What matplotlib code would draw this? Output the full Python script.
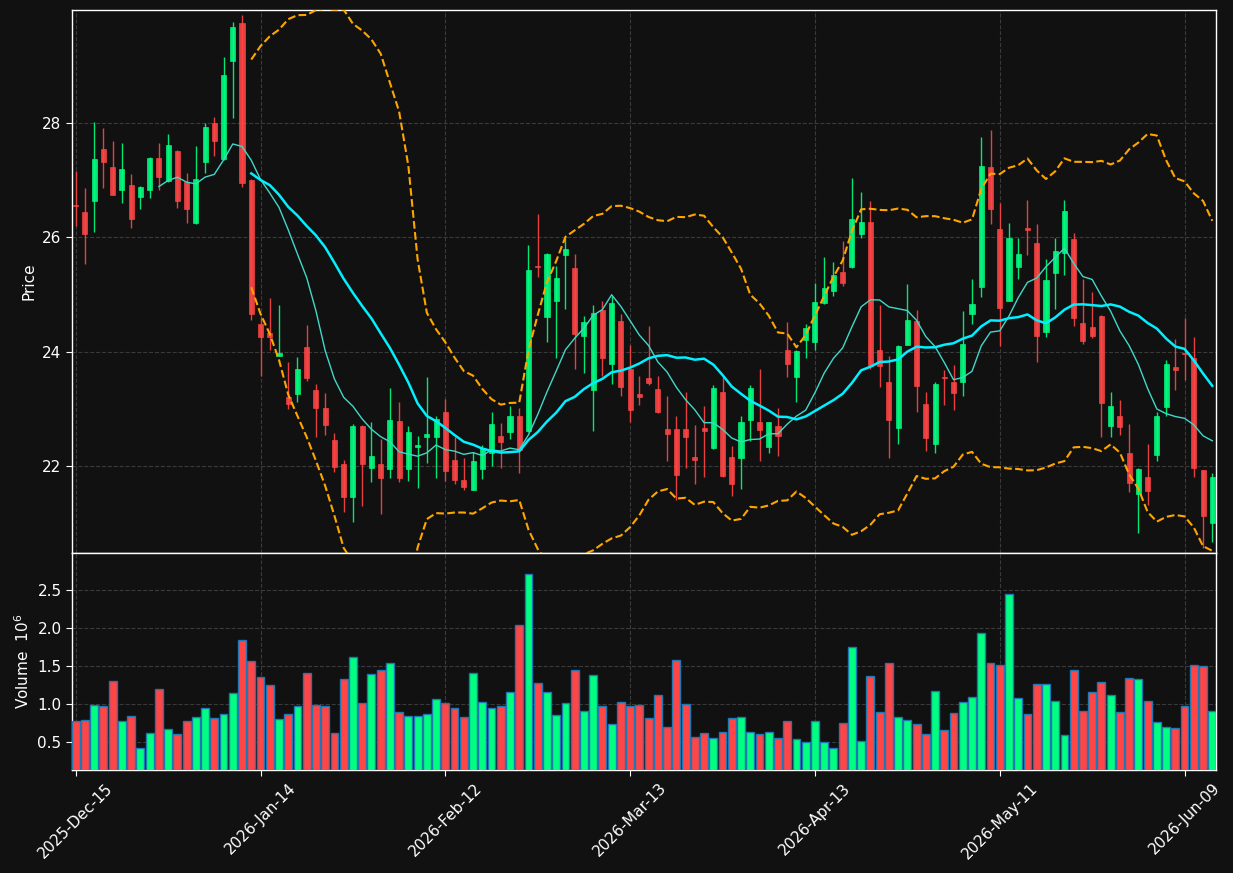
"""Candlestick chart with SMA10 / SMA20, Bollinger bands and volume panel."""

import numpy as np
import pandas as pd
import matplotlib
matplotlib.use('Agg')
import matplotlib.pyplot as plt

# ---- data ----
start_date = '2025-12-15'
holidays = ['2025-12-25', '2026-01-01', '2026-01-19', '2026-02-16', '2026-04-03', '2026-05-25']

opens = [26.57, 26.44, 26.63, 27.55, 27.22, 26.82, 26.92, 26.70, 26.82, 27.39,
         26.98, 27.51, 26.96, 26.24, 27.31, 27.99, 27.36, 29.08, 29.74, 27.00,
         24.49, 24.32, 23.93, 23.20, 23.26, 24.08, 23.33, 23.01, 22.45, 22.03,
         21.46, 22.69, 21.96, 22.04, 21.94, 22.78, 21.94, 22.33, 22.50, 22.50,
         22.94, 22.11, 21.76, 21.58, 21.94, 22.23, 22.53, 22.59, 22.87, 22.61,
         25.50, 24.61, 24.89, 25.68, 25.46, 24.27, 23.33, 24.73, 23.78, 24.53,
         23.69, 23.25, 23.53, 23.34, 22.65, 22.64, 22.64, 22.16, 22.66, 22.31,
         23.30, 22.15, 22.13, 22.80, 22.76, 22.33, 22.69, 24.02, 23.56, 24.20,
         24.17, 24.85, 25.06, 25.39, 25.48, 26.05, 26.27, 24.02, 23.46, 22.67,
         24.12, 24.53, 23.09, 22.38, 23.55, 23.47, 23.46, 24.66, 25.13, 27.23,
         26.15, 24.89, 25.47, 26.16, 25.90, 24.35, 25.38, 25.72, 25.97, 24.50,
         24.43, 24.62, 22.70, 22.88, 22.23, 21.51, 21.81, 22.19, 23.03, 23.73,
         23.98, 23.89, 21.92, 21.00]
highs = [27.15, 26.86, 28.02, 27.91, 27.68, 27.65, 27.11, 26.89, 27.40, 27.64,
         27.80, 27.52, 27.12, 27.60, 28.00, 28.11, 29.15, 29.76, 29.88, 27.01,
         24.60, 24.93, 24.81, 23.81, 23.90, 24.46, 23.44, 23.27, 22.57, 22.11,
         22.74, 22.72, 22.77, 22.47, 23.37, 23.11, 22.70, 22.53, 23.56, 22.87,
         23.17, 22.51, 22.14, 22.24, 22.37, 22.95, 22.75, 23.04, 23.02, 25.86,
         26.40, 25.72, 25.49, 25.99, 25.70, 24.63, 24.81, 24.89, 24.97, 24.65,
         24.11, 23.57, 24.44, 23.57, 23.23, 22.88, 23.29, 22.72, 23.04, 23.41,
         23.55, 22.34, 22.87, 23.41, 23.69, 22.77, 23.02, 24.51, 24.02, 24.49,
         25.19, 25.65, 25.56, 25.94, 27.03, 26.79, 26.63, 24.81, 23.92, 24.11,
         25.18, 24.73, 23.30, 23.46, 23.68, 23.76, 24.71, 25.26, 27.75, 27.88,
         26.60, 26.25, 25.98, 26.65, 26.23, 25.61, 25.98, 26.65, 26.07, 25.27,
         25.04, 24.64, 23.29, 23.16, 22.74, 21.96, 22.39, 22.95, 23.85, 24.22,
         24.58, 24.26, 21.93, 21.87]
lows = [26.20, 25.53, 26.09, 26.86, 26.73, 26.60, 26.16, 26.49, 26.68, 26.82,
        26.96, 26.51, 26.25, 26.23, 27.12, 27.42, 27.35, 28.08, 26.88, 24.56,
        23.58, 24.02, 23.93, 22.99, 23.11, 23.48, 22.51, 22.54, 21.89, 21.20,
        21.02, 21.29, 21.71, 21.16, 21.78, 21.71, 21.73, 21.61, 22.05, 21.79,
        21.73, 21.68, 21.58, 21.57, 21.77, 22.00, 21.96, 22.47, 21.88, 22.60,
        25.30, 24.17, 23.88, 24.75, 23.70, 23.63, 22.61, 23.57, 23.44, 23.22,
        22.77, 23.06, 23.41, 22.93, 22.08, 21.40, 21.96, 21.68, 21.81, 22.30,
        21.81, 21.47, 21.60, 22.44, 22.08, 22.23, 22.18, 23.56, 23.11, 23.89,
        24.02, 24.84, 24.98, 25.15, 25.46, 25.99, 23.70, 23.38, 22.14, 22.39,
        24.11, 22.95, 22.26, 22.23, 23.07, 22.98, 23.22, 24.48, 24.95, 26.23,
        24.10, 24.88, 25.26, 25.68, 23.81, 24.26, 24.75, 25.33, 24.44, 24.13,
        24.23, 22.51, 22.51, 22.54, 21.55, 20.82, 21.32, 22.08, 22.88, 23.33,
        23.50, 21.81, 20.57, 20.66]
closes = [26.55, 26.06, 27.36, 27.31, 26.74, 27.20, 26.31, 26.87, 27.39, 27.06,
          27.62, 26.63, 26.50, 27.01, 27.92, 27.68, 28.83, 29.67, 26.94, 24.66,
          24.26, 24.26, 23.98, 23.08, 23.69, 23.54, 23.02, 22.72, 21.98, 21.46,
          22.70, 22.04, 22.18, 21.78, 22.81, 21.78, 22.60, 22.37, 22.56, 22.82,
          21.91, 21.76, 21.63, 22.08, 22.31, 22.74, 22.42, 22.88, 22.27, 25.43,
          25.47, 25.71, 25.29, 25.80, 24.31, 24.51, 24.67, 23.89, 24.85, 23.38,
          22.98, 23.20, 23.45, 22.94, 22.55, 21.84, 22.50, 22.11, 22.61, 23.37,
          21.82, 21.68, 22.76, 23.37, 22.63, 22.76, 22.52, 23.78, 24.01, 24.42,
          24.87, 25.11, 25.34, 25.19, 26.32, 26.27, 23.74, 23.75, 22.80, 24.10,
          24.55, 23.40, 22.49, 23.44, 23.53, 23.27, 24.13, 24.84, 27.25, 26.50,
          24.77, 25.99, 25.71, 26.12, 24.27, 25.25, 25.76, 26.46, 24.59, 24.19,
          24.27, 23.10, 23.04, 22.68, 21.70, 21.95, 21.56, 22.87, 23.78, 23.68,
          23.96, 21.96, 21.12, 21.81]
# volume in millions of shares
volumes = [0.772, 0.789, 0.987, 0.974, 1.303, 0.772, 0.842, 0.421, 0.618, 1.197,
           0.671, 0.605, 0.772, 0.829, 0.947, 0.816, 0.868, 1.145, 1.842, 1.566,
           1.355, 1.250, 0.803, 0.868, 0.974, 1.408, 0.987, 0.974, 0.618, 1.329,
           1.618, 1.013, 1.395, 1.447, 1.539, 0.895, 0.842, 0.842, 0.868, 1.066,
           1.013, 0.947, 0.829, 1.408, 1.026, 0.947, 0.974, 1.158, 2.039, 2.711,
           1.276, 1.158, 0.855, 1.013, 1.447, 0.908, 1.382, 0.974, 0.737, 1.026,
           0.974, 0.987, 0.816, 1.118, 0.697, 1.579, 1.000, 0.566, 0.618, 0.553,
           0.632, 0.816, 0.829, 0.632, 0.605, 0.632, 0.553, 0.776, 0.539, 0.500,
           0.776, 0.500, 0.421, 0.750, 1.750, 0.513, 1.368, 0.895, 1.539, 0.829,
           0.789, 0.737, 0.605, 1.171, 0.658, 0.882, 1.026, 1.092, 1.934, 1.539,
           1.513, 2.447, 1.079, 0.868, 1.263, 1.263, 1.039, 0.592, 1.447, 0.908,
           1.158, 1.289, 1.118, 0.895, 1.342, 1.329, 1.039, 0.763, 0.697, 0.684,
           0.974, 1.513, 1.500, 0.908]

# ---- style ----
BG = '#111111'
UP = '#00ff80'
DOWN = '#ff4545'
GRID = dict(color='#3a3a3a', linestyle='--', linewidth=0.8)

df = pd.DataFrame({'Open': opens, 'High': highs, 'Low': lows,
                   'Close': closes, 'Volume': volumes})
df.index = pd.bdate_range(start_date, periods=len(df), freq='C', holidays=holidays)

sma10 = df['Close'].rolling(10).mean()
sma20 = df['Close'].rolling(20).mean()
std20 = df['Close'].rolling(20).std(ddof=0)
upper = sma20 + 2 * std20
lower = sma20 - 2 * std20

x = np.arange(len(df))
up = df['Close'] >= df['Open']
colors = np.where(up, UP, DOWN)

fig = plt.figure(figsize=(12.33, 8.73), dpi=100, facecolor=BG)
ax1 = fig.add_axes([0.0584, 0.3666, 0.9278, 0.6219])
ax2 = fig.add_axes([0.0584, 0.118, 0.9278, 0.2486], sharex=ax1)

for ax in (ax1, ax2):
    ax.set_facecolor(BG)
    for s in ax.spines.values():
        s.set_color('white')
        s.set_linewidth(1.0)
    ax.tick_params(colors='white', labelsize=11, length=4)
    ax.grid(True, **GRID)
    ax.set_axisbelow(True)

# Candles
body_lo = np.minimum(df['Open'], df['Close'])
body_h = np.maximum((df['Close'] - df['Open']).abs(), 0.02)
ax1.vlines(x, df['Low'], df['High'], colors=colors, linewidth=1.0, alpha=0.9, zorder=2)
ax1.bar(x, body_h, bottom=body_lo, width=0.55, color=colors,
        edgecolor=colors, linewidth=0.5, alpha=0.9, zorder=3)

# Moving averages and bands
ax1.plot(x, sma10, color='#40d8c8', linewidth=1.0, zorder=4)
ax1.plot(x, sma20, color='#00f0ff', linewidth=1.8, zorder=4)
ax1.plot(x, upper, color='orange', linestyle='--', linewidth=1.5, zorder=4)
ax1.plot(x, lower, color='orange', linestyle='--', linewidth=1.5, zorder=4)

pad = 0.01 * (df['High'].max() - df['Low'].min())
ax1.set_ylim(df['Low'].min() - pad, df['High'].max() + pad)
ax1.set_ylabel('Price', color='white', fontsize=11)
plt.setp(ax1.get_xticklabels(), visible=False)
ax1.tick_params(axis='x', length=0)

# Volume
ax2.bar(x, df['Volume'], width=0.85, color=colors, edgecolor='#1f77b4',
        linewidth=1.0, zorder=3)
ax2.set_ylim(0.3 * df['Volume'].min(), 1.1 * df['Volume'].max())
ax2.set_ylabel('Volume  $10^{6}$', color='white', fontsize=11)

ticks = x[::20]
ax2.set_xticks(ticks)
ax2.set_xticklabels([df.index[i].strftime('%Y-%b-%d') for i in ticks], rotation=45)
ax2.set_xlim(-0.4, len(df) - 1 + 0.4)

fig.savefig('out.png', dpi=100, facecolor=BG)
